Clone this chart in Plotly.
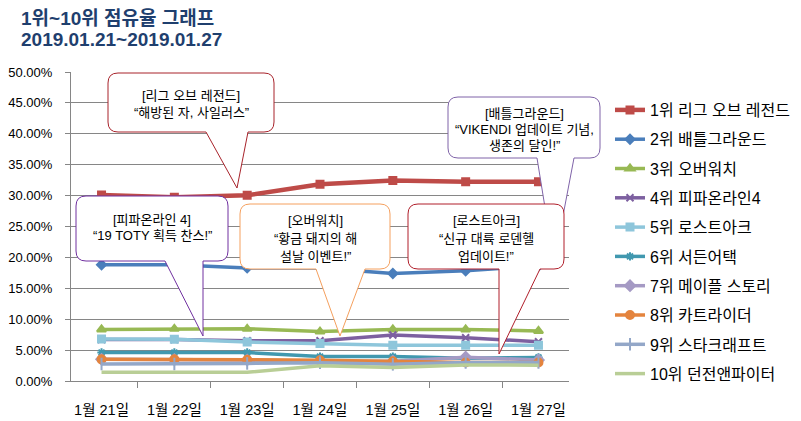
import plotly.graph_objects as go

dates = ["1월 21일", "1월 22일", "1월 23일", "1월 24일", "1월 25일", "1월 26일", "1월 27일"]
names = ["1위 리그 오브 레전드", "2위 배틀그라운드", "3위 오버워치", "4위 피파온라인4",
         "5위 로스트아크", "6위 서든어택", "7위 메이플 스토리", "8위 카트라이더",
         "9위 스타크래프트", "10위 던전앤파이터"]
lol = [30.10, 29.75, 30.05, 31.85, 32.45, 32.25, 32.25]
pubg = [18.80, 18.80, 18.30, 18.30, 17.40, 17.85, 18.60]
overwatch = [8.35, 8.45, 8.45, 8.00, 8.35, 8.35, 8.10]
fifa4 = [6.70, 6.70, 6.50, 6.50, 7.45, 7.00, 6.35]
lostark = [6.80, 6.75, 6.30, 6.05, 5.80, 5.80, 5.80]
sudden = [4.60, 4.60, 4.60, 3.95, 3.95, 3.70, 3.80]
maple = [3.50, 3.45, 3.40, 3.20, 3.20, 3.85, 3.40]
kart = [3.50, 3.50, 3.45, 3.35, 3.20, 3.00, 3.00]
starcraft = [2.75, 2.75, 2.85, 2.95, 2.70, 3.00, 3.00]
dnf = [1.40, 1.40, 1.40, 2.45, 2.20, 2.60, 2.55]
series = [lol, pubg, overwatch, fifa4, lostark, sudden, maple, kart, starcraft, dnf]

colors = ["#BE4B48", "#4A7EBB", "#98B954", "#7D60A0", "#8EC6DB",
          "#4198AF", "#A59AC4", "#E4843E", "#93A7C8", "#B9CE96"]
symbols = ["square", "diamond", "triangle-up", "x-thin-open", "square",
           "asterisk-open", "diamond", "circle", "line-ns-open", None]
sizes = [7, 7, 8, 7, 7, 7, 8, 8, 9, 0]
widths = [4.5, 3.5, 3.5, 3.5, 3.5, 3.5, 3.5, 3.5, 3.5, 3.5]

FONT = "Liberation Sans, Noto Sans CJK KR, sans-serif"

fig = go.Figure()
for i, (nm, vals) in enumerate(zip(names, series)):
    mk = dict(color=colors[i], size=sizes[i])
    if symbols[i]:
        mk["symbol"] = symbols[i]
        mk["line"] = dict(color=colors[i], width=2)
        mode = "lines+markers"
    else:
        mode = "lines"
    fig.add_trace(go.Scatter(
        x=dates, y=[v / 100 for v in vals], name=nm, mode=mode,
        line=dict(color=colors[i], width=widths[i]), marker=mk,
        legendgroup=str(i)))

# the page body adds an 8px offset; figure is shrunk so the screenshot lines up
OFF = 8
W, H = 801 - OFF, 421 - OFF
# plot area in screenshot pixels
L, R, T, B = 71, 569, 72, 381


def px(x):
    return (x - L) / (R - L)


def py(y):
    return (B - y) / (B - T)


def callout(x0, y0, x1, y1, ba, bb, tip, r=10):
    pts = []
    pts.append(f"M{px(x0 + r)},{py(y0)}")
    pts.append(f"L{px(x1 - r)},{py(y0)}")
    pts.append(f"Q{px(x1)},{py(y0)} {px(x1)},{py(y0 + r)}")
    pts.append(f"L{px(x1)},{py(y1 - r)}")
    pts.append(f"Q{px(x1)},{py(y1)} {px(x1 - r)},{py(y1)}")
    pts.append(f"L{px(bb)},{py(y1)}")
    pts.append(f"L{px(tip[0])},{py(tip[1])}")
    pts.append(f"L{px(ba)},{py(y1)}")
    pts.append(f"L{px(x0 + r)},{py(y1)}")
    pts.append(f"Q{px(x0)},{py(y1)} {px(x0)},{py(y1 - r)}")
    pts.append(f"L{px(x0)},{py(y0 + r)}")
    pts.append(f"Q{px(x0)},{py(y0)} {px(x0 + r)},{py(y0)}")
    pts.append("Z")
    return " ".join(pts)


callouts = [
    dict(box=(108, 73, 274, 132), base=(206, 248), tip=(237, 188), color="#A8232B",
         lines=["[리그 오브 레전드]", "“해방된 자, 사일러스”"], ys=[95, 112]),
    dict(box=(448, 97, 600, 158), base=(537, 574), tip=(554, 263), color="#7F63A8",
         lines=["[배틀그라운드]", "“VIKENDI 업데이트 기념,", "생존의 달인!”"], ys=[113, 129, 145]),
    dict(box=(76, 196, 228, 261), base=(165, 203), tip=(203, 336), color="#7030A0",
         lines=["[피파온라인 4]", "“19 TOTY 획득 찬스!”"], ys=[219, 235]),
    dict(box=(240, 204, 390, 269), base=(316, 365), tip=(340, 336), color="#F5A05E",
         lines=["[오버워치]", "“황금 돼지의 해", "설날 이벤트!”"], ys=[220, 238, 256]),
    dict(box=(408, 204, 564, 269), base=(499, 540), tip=(499, 354), color="#B01E2A",
         lines=["[로스트아크]", "“신규 대륙 로덴헬", "업데이트!”"], ys=[220, 238, 256]),
]

shapes = []
annotations = []
for c in callouts:
    x0, y0, x1, y1 = c["box"]
    shapes.append(dict(type="path", xref="paper", yref="paper",
                       path=callout(x0, y0, x1, y1, c["base"][0], c["base"][1], c["tip"]),
                       line=dict(color=c["color"], width=1), fillcolor="white", layer="above"))
    cx = (x0 + x1) / 2
    for t, yy in zip(c["lines"], c["ys"]):
        annotations.append(dict(xref="paper", yref="paper", x=px(cx), y=py(yy),
                                text=t, showarrow=False, xanchor="center", yanchor="middle",
                                font=dict(family=FONT, size=13, color="#000000")))

annotations.append(dict(xref="paper", yref="paper", x=px(19), y=py(18), text="<b>1위~10위 점유율 그래프</b>",
                        showarrow=False, xanchor="left", yanchor="middle",
                        font=dict(family=FONT, size=19, color="#1F3F6E")))
annotations.append(dict(xref="paper", yref="paper", x=px(19), y=py(40), text="<b>2019.01.21~2019.01.27</b>",
                        showarrow=False, xanchor="left", yanchor="middle",
                        font=dict(family=FONT, size=19, color="#1F3F6E")))

fig.update_layout(
    width=W, height=H,
    margin=dict(l=L - OFF, r=801 - R, t=T - OFF, b=421 - B, autoexpand=False),
    paper_bgcolor="white", plot_bgcolor="white",
    font=dict(family=FONT, size=13, color="#000000"),
    showlegend=True,
    legend=dict(x=px(610), y=py(93), xanchor="left", yanchor="top",
                font=dict(family=FONT, size=16, color="#000000"),
                tracegroupgap=5.5, bgcolor="rgba(0,0,0,0)"),
    shapes=shapes, annotations=annotations,
)
fig.update_xaxes(type="category", tickson="boundaries", ticks="outside", ticklen=6,
                 tickcolor="#868686", showline=True, linecolor="#868686", linewidth=1,
                 showgrid=False, ticklabelstandoff=16, tickfont=dict(size=14.5), automargin=False)
fig.update_yaxes(range=[0, 0.5], dtick=0.05, tickformat=".2%", ticks="outside", ticklen=5,
                 tickcolor="#868686", showline=True, linecolor="#868686", linewidth=1,
                 showgrid=True, gridcolor="#868686", gridwidth=1, zeroline=False,
                 ticklabelstandoff=10, tickfont=dict(size=13), automargin=False)

fig.write_html("out.html")
